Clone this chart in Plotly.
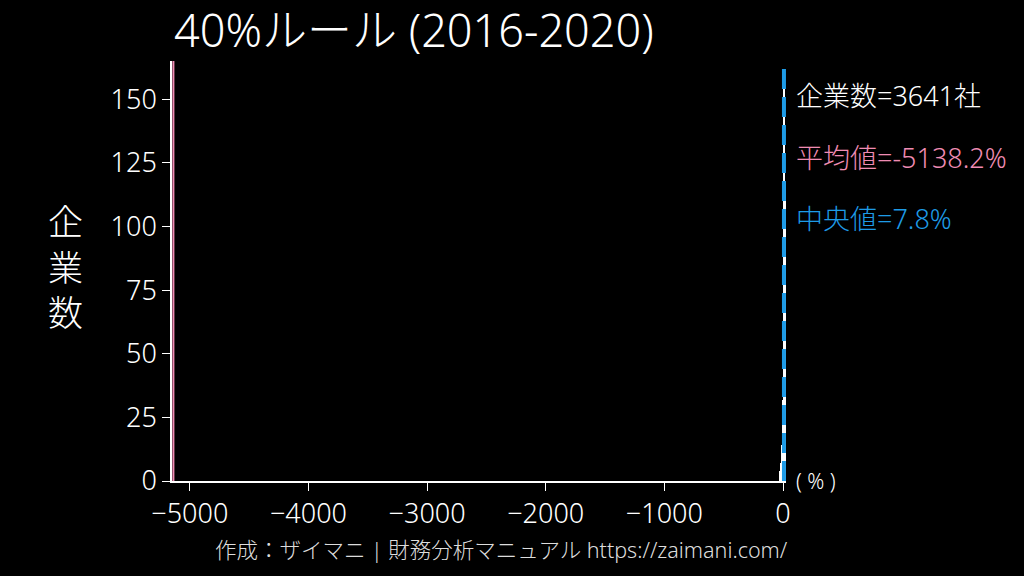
import plotly.graph_objects as go

# 40%ルール (2016-2020) のヒストグラム
bin_centers = [-29, -27, -25, -23, -21, -19, -17, -15, -13, -11, -9, -7, -5, -3, -1,
               1, 3, 5, 7, 9, 11, 13, 15, 17, 19, 21, 23, 25, 27, 29,
               31, 33, 35, 37, 39, 41, 43, 45, 47, 49, 51, 53, 55, 57, 59]
bin_counts = [3, 3, 4, 4, 5, 6, 7, 8, 10, 12, 14, 17, 20, 25, 32,
              45, 70, 105, 140, 157, 150, 140, 130, 118, 105, 95, 85, 75, 66, 58,
              50, 44, 38, 33, 29, 25, 22, 19, 17, 15, 13, 11, 10, 9, 8]
bin_width = 2

n_companies = 3641
mean_val = -5138.2
median_val = 7.8

x_range = [-5150, 25]
y_range = [0, 165]
x_ticks = [-5000, -4000, -3000, -2000, -1000, 0]
y_ticks = [0, 25, 50, 75, 100, 125, 150]

PINK = "#f08cb4"
BLUE = "#1e9be6"
FONT = "Noto Sans, Noto Sans CJK JP"

fig = go.Figure()
fig.add_trace(go.Bar(
    x=bin_centers, y=bin_counts, width=bin_width,
    marker=dict(color="white", line=dict(width=0)),
    showlegend=False,
))

# 平均値・中央値の線
fig.add_shape(type="line", x0=mean_val, x1=mean_val, y0=0, y1=1, yref="paper",
              line=dict(color=PINK, width=2))
fig.add_shape(type="line", x0=median_val, x1=median_val, y0=0, y1=1, yref="paper",
              line=dict(color=BLUE, width=4, dash="20px,8px"))

fig.add_annotation(x=1.0, y=0.919, xref="paper", yref="paper", xanchor="left",
                   yanchor="middle", xshift=8,
                   text=f"企業数={n_companies}社", showarrow=False,
                   font=dict(size=27, color="white", weight=300))
fig.add_annotation(x=1.0, y=0.771, xref="paper", yref="paper", xanchor="left",
                   yanchor="middle", xshift=8,
                   text=f"平均値={mean_val}%", showarrow=False,
                   font=dict(size=27, color=PINK, weight=300))
fig.add_annotation(x=1.0, y=0.626, xref="paper", yref="paper", xanchor="left",
                   yanchor="middle", xshift=8,
                   text=f"中央値={median_val}%", showarrow=False,
                   font=dict(size=27, color=BLUE, weight=300))
fig.add_annotation(x=1.0, y=0.0, xref="paper", yref="paper", xanchor="left",
                   yanchor="middle", xshift=8,
                   text="( % )", showarrow=False, font=dict(size=21, color="white", weight=300))

# 縦書きの軸ラベル
fig.add_annotation(x=-0.174, y=0.509, xref="paper", yref="paper", text="企<br>業<br>数",
                   xanchor="center", yanchor="middle", showarrow=False,
                   font=dict(size=35, color="white", weight=300))

fig.add_annotation(x=0.536, y=-0.164, xref="paper", yref="paper", xanchor="center",
                   yanchor="middle",
                   text="作成：ザイマニ | 財務分析マニュアル https://zaimani.com/",
                   showarrow=False, font=dict(size=21.5, color="#dddddd", weight=300))

fig.update_layout(
    width=1024, height=576,
    paper_bgcolor="black", plot_bgcolor="black",
    margin=dict(l=172, r=238, t=61, b=95),
    font=dict(family=FONT, color="white", weight=300),
    title=dict(text="40%ルール (2016-2020)", x=174 / 1024, xanchor="left",
               y=1 - 31 / 576, yanchor="middle",
               font=dict(size=45, color="white", weight=300)),
    bargap=0,
    xaxis=dict(range=x_range, tickvals=x_ticks, showgrid=False, zeroline=False,
               showline=True, linecolor="white", linewidth=1.5,
               ticks="outside", ticklen=8, tickcolor="white",
               tickfont=dict(size=27, color="white", weight=300)),
    yaxis=dict(range=y_range, tickvals=y_ticks, showgrid=False, zeroline=False,
               showline=True, linecolor="white", linewidth=1.5,
               ticks="outside", ticklen=8, tickcolor="white",
               tickfont=dict(size=27, color="white", weight=300)),
)

fig.write_html("out.html", config={"displayModeBar": False},
               post_script="document.body.style.margin='0';")
